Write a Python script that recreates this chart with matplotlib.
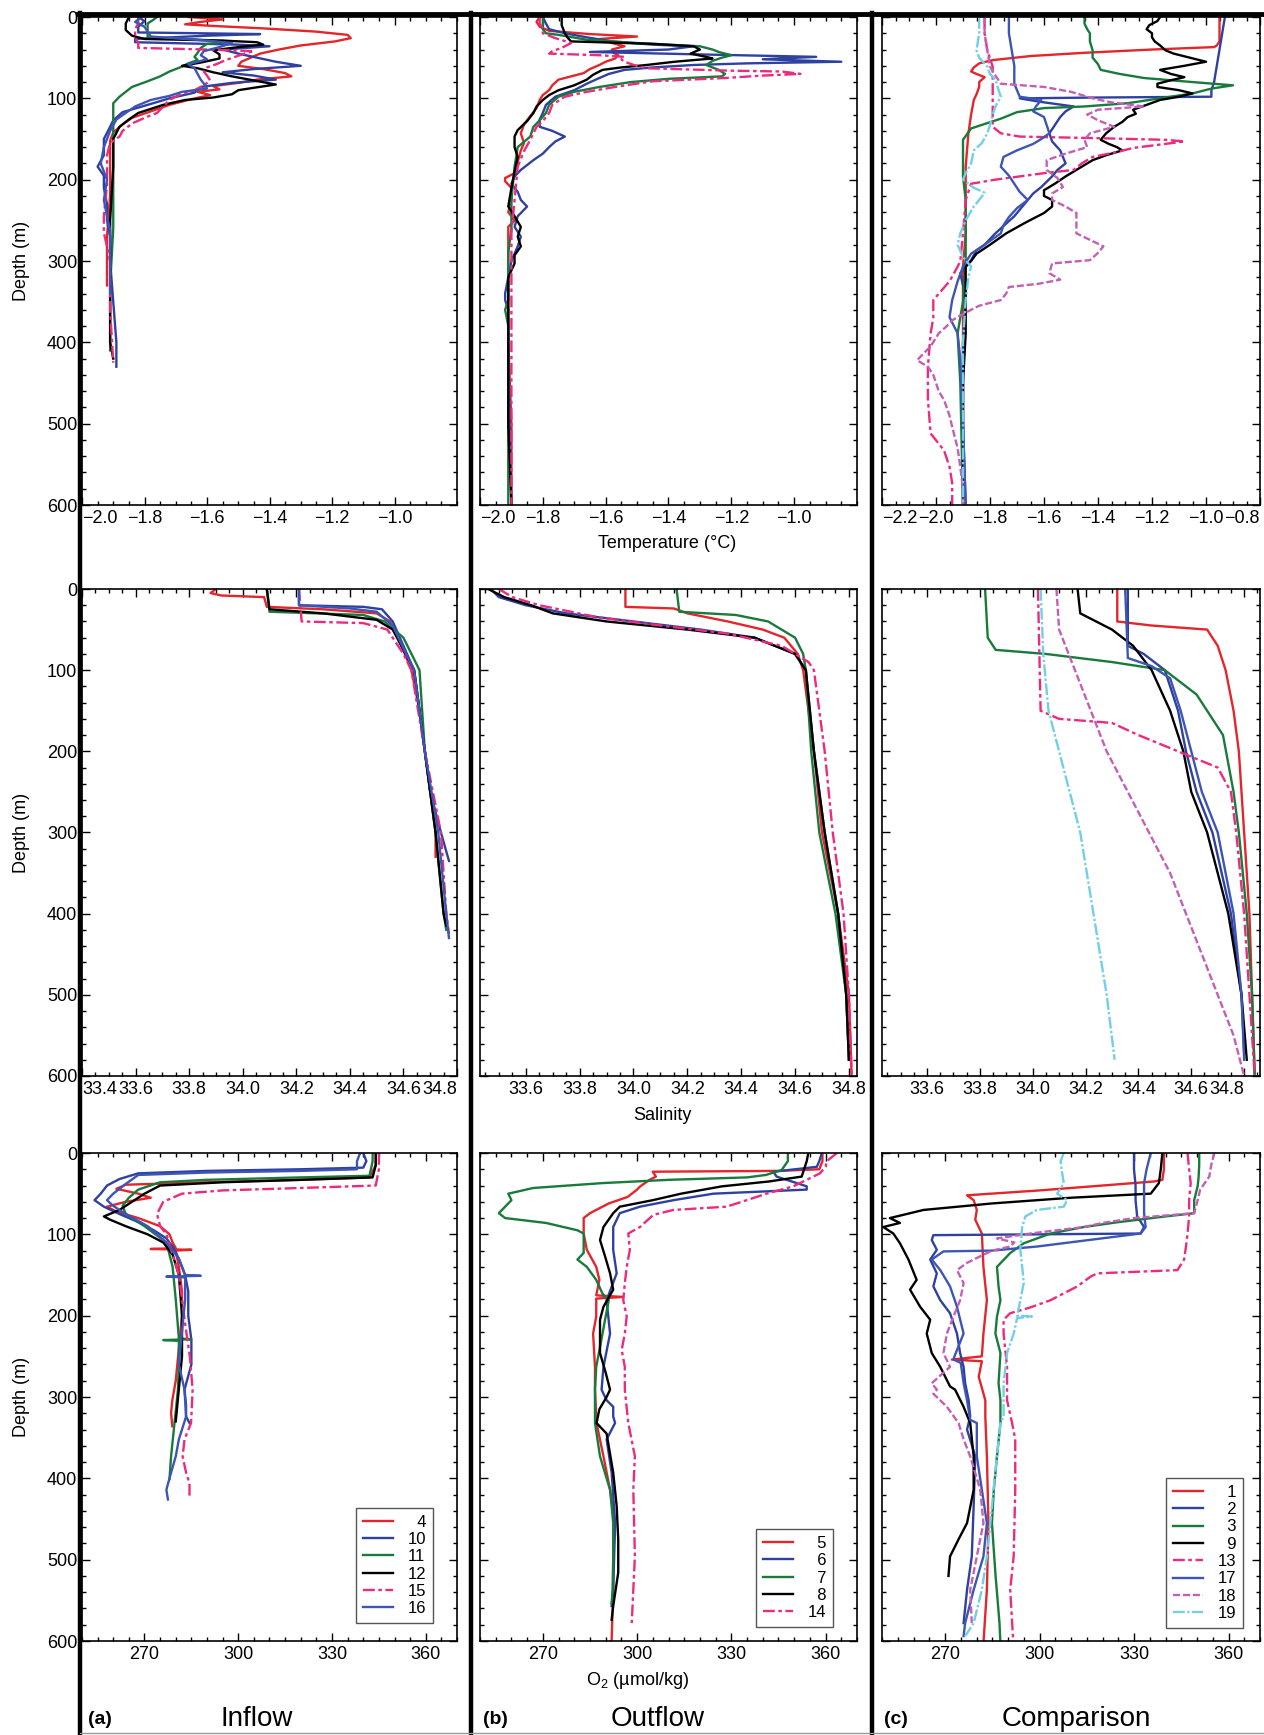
import matplotlib
matplotlib.use('Agg')
import matplotlib.pyplot as plt
from matplotlib.lines import Line2D
from matplotlib.ticker import MultipleLocator, FixedLocator, FuncFormatter
import numpy as np

plt.rcParams['font.family'] = ['Liberation Sans', 'DejaVu Sans']
plt.rcParams['mathtext.fontset'] = 'custom'
plt.rcParams['mathtext.rm'] = 'Liberation Sans'
plt.rcParams['mathtext.default'] = 'regular'

# ---- station lists ----
inflow_st = ['4', '10', '11', '12', '15', '16']
outflow_st = ['5', '6', '7', '8', '14']
comp_st = ['1', '2', '3', '9', '13', '17', '18', '19']

# ---- temperature profiles (depth m, temp C) ----
temp_in_4 = [(0,-1.66),(3,-1.55),(6,-1.62),(9,-1.67),(11,-1.58),(14,-1.42),(18,-1.25),(22,-1.15),(26,-1.14),(30,-1.19),(35,-1.30),(40,-1.37),(45,-1.43),(50,-1.46),(55,-1.49),(60,-1.50),(64,-1.42),(69,-1.35),(73,-1.33),(77,-1.44),(81,-1.50),(85,-1.58),(89,-1.56),(92,-1.63),(96,-1.59),(101,-1.65),(108,-1.72),(116,-1.78),(124,-1.84),(132,-1.87),(142,-1.90),(152,-1.91),(180,-1.91),(220,-1.91),(270,-1.92),(330,-1.92)]
temp_in_10 = [(0,-1.82),(5,-1.80),(12,-1.82),(19,-1.82),(21,-1.43),(23,-1.60),(27,-1.83),(31,-1.83),(34,-1.50),(36,-1.40),(40,-1.55),(45,-1.50),(50,-1.44),(55,-1.38),(60,-1.30),(64,-1.45),(68,-1.55),(72,-1.45),(77,-1.38),(81,-1.52),(86,-1.62),(93,-1.64),(100,-1.72),(108,-1.79),(117,-1.87),(127,-1.90),(135,-1.91),(150,-1.93),(170,-1.93),(184,-1.95),(195,-1.93),(210,-1.93),(230,-1.92),(250,-1.92),(270,-1.91),(300,-1.91),(350,-1.90),(400,-1.89),(430,-1.89)]
temp_in_11 = [(0,-1.76),(3,-1.77),(8,-1.79),(15,-1.79),(20,-1.79),(25,-1.79),(28,-1.62),(30,-1.52),(33,-1.60),(38,-1.62),(44,-1.63),(49,-1.64),(53,-1.63),(57,-1.66),(61,-1.68),(67,-1.72),(73,-1.75),(79,-1.79),(86,-1.84),(92,-1.86),(98,-1.88),(106,-1.90),(130,-1.90),(200,-1.90),(260,-1.90),(330,-1.91),(410,-1.91)]
temp_in_12 = [(0,-1.85),(8,-1.86),(16,-1.86),(23,-1.84),(27,-1.80),(29,-1.55),(31,-1.44),(34,-1.42),(37,-1.50),(41,-1.58),(46,-1.56),(51,-1.56),(56,-1.62),(60,-1.68),(63,-1.63),(68,-1.58),(73,-1.52),(78,-1.45),(83,-1.38),(87,-1.45),(90,-1.50),(95,-1.52),(99,-1.58),(102,-1.67),(108,-1.74),(118,-1.82),(126,-1.85),(135,-1.88),(150,-1.90),(184,-1.90),(250,-1.91),(320,-1.91),(400,-1.91),(420,-1.90)]
temp_in_15 = [(0,-1.82),(8,-1.82),(15,-1.83),(25,-1.83),(32,-1.82),(38,-1.82),(40,-1.60),(42,-1.45),(45,-1.48),(49,-1.51),(53,-1.54),(58,-1.57),(62,-1.60),(67,-1.61),(72,-1.60),(78,-1.59),(84,-1.61),(90,-1.64),(96,-1.69),(102,-1.72),(110,-1.74),(118,-1.76),(124,-1.80),(131,-1.84),(140,-1.87),(147,-1.88),(155,-1.91),(170,-1.92),(205,-1.92),(245,-1.93),(265,-1.93),(300,-1.91),(360,-1.91),(425,-1.90)]
temp_in_16 = [(0,-1.81),(6,-1.83),(12,-1.80),(18,-1.79),(24,-1.78),(29,-1.60),(32,-1.52),(37,-1.56),(42,-1.61),(47,-1.62),(52,-1.60),(58,-1.66),(63,-1.64),(70,-1.63),(77,-1.62),(82,-1.61),(88,-1.60),(92,-1.68),(97,-1.72),(102,-1.78),(110,-1.83),(118,-1.86),(126,-1.89),(140,-1.91),(160,-1.93),(180,-1.94),(200,-1.92),(225,-1.93),(245,-1.92),(262,-1.91),(290,-1.91),(340,-1.91)]

temp_out_5 = [(0,-1.81),(6,-1.82),(12,-1.81),(17,-1.78),(21,-1.65),(24,-1.50),(27,-1.62),(32,-1.58),(36,-1.54),(40,-1.58),(43,-1.58),(47,-1.56),(51,-1.57),(55,-1.60),(59,-1.62),(64,-1.65),(69,-1.67),(77,-1.75),(84,-1.77),(90,-1.78),(96,-1.80),(102,-1.81),(112,-1.82),(122,-1.84),(132,-1.86),(143,-1.87),(155,-1.86),(164,-1.87),(178,-1.88),(192,-1.89),(198,-1.92),(202,-1.92),(210,-1.90),(225,-1.90),(240,-1.91),(250,-1.89),(258,-1.91),(266,-1.91),(300,-1.91),(400,-1.91),(500,-1.90),(600,-1.90)]
temp_out_6 = [(0,-1.80),(8,-1.79),(15,-1.78),(20,-1.73),(25,-1.66),(30,-1.58),(34,-1.45),(36,-1.32),(40,-1.40),(43,-1.65),(46,-1.30),(49,-0.93),(52,-1.10),(55,-0.85),(57,-1.15),(59,-1.32),(62,-1.45),(65,-1.54),(70,-1.59),(75,-1.62),(82,-1.66),(90,-1.70),(98,-1.76),(108,-1.79),(118,-1.80),(126,-1.81),(135,-1.81),(140,-1.77),(147,-1.73),(153,-1.76),(160,-1.78),(168,-1.80),(176,-1.83),(188,-1.87),(196,-1.89),(205,-1.90),(215,-1.88),(225,-1.87),(233,-1.85),(245,-1.88),(258,-1.89),(270,-1.87),(282,-1.88),(300,-1.90),(320,-1.91),(340,-1.92),(348,-1.92),(360,-1.91),(400,-1.91),(600,-1.90)]
temp_out_7 = [(0,-1.80),(8,-1.80),(15,-1.80),(20,-1.79),(22,-1.75),(28,-1.66),(32,-1.50),(36,-1.30),(40,-1.26),(43,-1.24),(47,-1.20),(50,-1.23),(54,-1.26),(59,-1.28),(65,-1.24),(70,-1.22),(73,-1.23),(76,-1.40),(80,-1.52),(86,-1.62),(92,-1.70),(98,-1.75),(108,-1.78),(118,-1.79),(127,-1.81),(135,-1.83),(147,-1.84),(160,-1.88),(184,-1.89),(225,-1.90),(260,-1.90),(290,-1.91),(320,-1.91),(348,-1.91),(360,-1.92),(380,-1.91),(450,-1.91),(600,-1.91)]
temp_out_8 = [(0,-1.74),(10,-1.74),(20,-1.73),(26,-1.72),(30,-1.71),(33,-1.45),(36,-1.32),(40,-1.30),(45,-1.33),(49,-1.28),(51,-1.26),(55,-1.38),(59,-1.47),(62,-1.55),(65,-1.61),(71,-1.64),(77,-1.66),(84,-1.70),(90,-1.75),(96,-1.78),(102,-1.80),(110,-1.82),(118,-1.83),(128,-1.85),(139,-1.88),(147,-1.89),(160,-1.89),(172,-1.88),(190,-1.89),(210,-1.90),(233,-1.91),(245,-1.89),(258,-1.87),(270,-1.88),(282,-1.87),(293,-1.89),(303,-1.89),(320,-1.91),(350,-1.91),(400,-1.91),(500,-1.91),(600,-1.90)]
temp_out_14 = [(0,-1.81),(8,-1.81),(15,-1.80),(20,-1.80),(26,-1.76),(32,-1.71),(38,-1.74),(42,-1.77),(45,-1.78),(47,-1.62),(49,-1.54),(52,-1.55),(55,-1.54),(59,-1.51),(63,-1.47),(66,-1.20),(67,-1.04),(70,-0.98),(72,-1.10),(75,-1.22),(79,-1.45),(83,-1.52),(86,-1.57),(92,-1.66),(98,-1.73),(108,-1.77),(118,-1.78),(128,-1.80),(135,-1.82),(151,-1.84),(165,-1.86),(184,-1.88),(225,-1.89),(266,-1.90),(348,-1.90),(450,-1.90),(600,-1.90)]

temp_cmp_1 = [(0,-0.95),(10,-0.95),(20,-0.95),(30,-0.95),(35,-0.96),(37,-0.97),(40,-1.20),(44,-1.45),(48,-1.65),(53,-1.79),(57,-1.84),(62,-1.86),(67,-1.87),(70,-1.85),(74,-1.82),(80,-1.84),(86,-1.84),(95,-1.85),(102,-1.86),(120,-1.87),(143,-1.88),(184,-1.89),(230,-1.89),(266,-1.89),(307,-1.90),(400,-1.90),(500,-1.90),(600,-1.90)]
temp_cmp_2 = [(0,-0.93),(20,-0.94),(40,-0.95),(60,-0.96),(80,-0.97),(90,-0.98),(98,-0.98),(99,-1.40),(100,-1.69),(104,-1.62),(110,-1.49),(116,-1.52),(123,-1.54),(133,-1.56),(143,-1.58),(153,-1.57),(164,-1.54),(172,-1.53),(180,-1.52),(188,-1.55),(196,-1.57),(209,-1.61),(217,-1.64),(225,-1.66),(245,-1.71),(266,-1.78),(280,-1.82),(287,-1.85),(299,-1.87),(315,-1.91),(330,-1.90),(348,-1.89),(400,-1.90),(500,-1.90),(600,-1.89)]
temp_cmp_3 = [(0,-1.45),(8,-1.45),(15,-1.44),(20,-1.43),(30,-1.43),(41,-1.42),(50,-1.42),(58,-1.40),(65,-1.39),(70,-1.32),(75,-1.23),(80,-1.05),(84,-0.90),(88,-0.98),(94,-1.05),(100,-1.17),(106,-1.29),(110,-1.45),(112,-1.60),(117,-1.70),(125,-1.76),(137,-1.87),(151,-1.90),(176,-1.90),(196,-1.90),(225,-1.89),(300,-1.89),(350,-1.90),(389,-1.92),(450,-1.91),(600,-1.90)]
temp_cmp_9 = [(0,-1.17),(5,-1.18),(10,-1.21),(15,-1.22),(20,-1.20),(25,-1.20),(30,-1.19),(35,-1.17),(41,-1.15),(45,-1.12),(50,-1.06),(55,-1.00),(60,-1.08),(65,-1.17),(70,-1.13),(74,-1.08),(77,-1.12),(82,-1.18),(86,-1.18),(90,-1.10),(94,-1.05),(98,-1.10),(102,-1.17),(108,-1.22),(114,-1.27),(119,-1.26),(123,-1.29),(129,-1.31),(135,-1.34),(143,-1.37),(151,-1.39),(156,-1.36),(160,-1.33),(164,-1.31),(170,-1.37),(176,-1.42),(186,-1.47),(196,-1.52),(205,-1.56),(213,-1.60),(220,-1.60),(225,-1.57),(233,-1.57),(241,-1.60),(253,-1.67),(266,-1.74),(280,-1.80),(291,-1.85),(300,-1.87),(307,-1.89),(330,-1.89),(389,-1.89),(450,-1.90),(600,-1.90)]
temp_cmp_13 = [(0,-1.82),(20,-1.82),(41,-1.81),(61,-1.79),(90,-1.79),(110,-1.79),(125,-1.79),(135,-1.79),(143,-1.76),(147,-1.69),(149,-1.40),(151,-1.15),(153,-1.08),(156,-1.15),(161,-1.27),(166,-1.33),(172,-1.42),(180,-1.46),(188,-1.49),(192,-1.60),(196,-1.69),(200,-1.78),(205,-1.87),(215,-1.88),(225,-1.89),(266,-1.90),(300,-1.91),(307,-1.92),(325,-1.95),(348,-2.01),(370,-2.01),(389,-2.02),(430,-2.03),(470,-2.03),(512,-2.02),(533,-1.97),(553,-1.95),(573,-1.94),(600,-1.94)]
temp_cmp_17 = [(0,-1.73),(20,-1.73),(40,-1.72),(60,-1.71),(82,-1.71),(90,-1.70),(98,-1.69),(102,-1.61),(110,-1.63),(116,-1.64),(123,-1.60),(133,-1.59),(143,-1.58),(150,-1.61),(156,-1.64),(164,-1.70),(172,-1.75),(184,-1.76),(195,-1.73),(205,-1.71),(215,-1.69),(225,-1.66),(235,-1.70),(246,-1.73),(256,-1.75),(266,-1.76),(280,-1.82),(291,-1.87),(307,-1.90),(325,-1.92),(348,-1.94),(369,-1.95),(389,-1.92),(420,-1.91),(500,-1.90),(600,-1.89)]
temp_cmp_18 = [(0,-1.82),(20,-1.82),(41,-1.81),(61,-1.80),(72,-1.78),(82,-1.76),(86,-1.60),(92,-1.50),(100,-1.42),(105,-1.35),(110,-1.23),(114,-1.40),(120,-1.44),(127,-1.40),(135,-1.34),(143,-1.43),(151,-1.45),(160,-1.44),(168,-1.52),(176,-1.59),(188,-1.59),(198,-1.55),(209,-1.53),(217,-1.57),(225,-1.57),(233,-1.52),(241,-1.48),(256,-1.48),(266,-1.48),(274,-1.43),(282,-1.38),(290,-1.40),(299,-1.43),(303,-1.57),(315,-1.58),(323,-1.54),(328,-1.62),(332,-1.73),(340,-1.74),(348,-1.76),(355,-1.84),(360,-1.87),(367,-1.91),(373,-1.94),(380,-1.96),(389,-1.99),(405,-2.02),(415,-2.05),(422,-2.07),(430,-2.03),(440,-2.01),(460,-1.99),(471,-1.97),(490,-1.95),(504,-1.94),(530,-1.92),(553,-1.91),(580,-1.90),(600,-1.90)]
temp_cmp_19 = [(0,-1.84),(20,-1.84),(41,-1.85),(50,-1.84),(61,-1.81),(70,-1.80),(77,-1.78),(88,-1.77),(98,-1.76),(110,-1.78),(120,-1.79),(133,-1.80),(143,-1.81),(155,-1.83),(164,-1.86),(180,-1.87),(192,-1.89),(200,-1.90),(210,-1.86),(216,-1.82),(225,-1.84),(233,-1.86),(250,-1.89),(266,-1.91),(280,-1.92),(295,-1.90),(307,-1.87),(320,-1.88),(348,-1.89),(400,-1.90),(500,-1.90),(600,-1.90)]

# ---- salinity profiles (depth m, salinity) ----
sal_in_4 = [(0,33.90),(5,33.88),(8,33.92),(10,34.08),(22,34.09),(25,34.30),(30,34.50),(40,34.55),(60,34.58),(100,34.63),(150,34.66),(200,34.68),(250,34.70),(300,34.72),(330,34.72)]
sal_in_10 = [(0,34.21),(20,34.21),(22,34.45),(25,34.52),(40,34.56),(70,34.60),(100,34.64),(200,34.68),(250,34.70),(300,34.74),(335,34.77)]
sal_in_11 = [(0,34.09),(28,34.10),(32,34.45),(40,34.53),(60,34.60),(100,34.66),(200,34.68),(300,34.72),(400,34.75),(420,34.76)]
sal_in_12 = [(0,34.09),(25,34.10),(30,34.30),(38,34.50),(50,34.56),(100,34.64),(200,34.68),(300,34.72),(400,34.75),(415,34.76)]
sal_in_15 = [(0,34.21),(40,34.22),(42,34.45),(50,34.54),(80,34.60),(100,34.63),(200,34.68),(300,34.74),(400,34.76),(425,34.77)]
sal_in_16 = [(0,34.21),(20,34.21),(24,34.40),(28,34.50),(45,34.56),(80,34.61),(100,34.64),(200,34.68),(300,34.73),(400,34.76),(430,34.77)]

sal_out_5 = [(0,33.97),(22,33.97),(24,34.15),(30,34.20),(40,34.35),(50,34.48),(60,34.56),(80,34.61),(100,34.63),(150,34.65),(200,34.67),(300,34.70),(400,34.76),(500,34.80),(600,34.81)]
sal_out_6 = [(0,33.47),(10,33.50),(20,33.60),(30,33.75),(40,34.00),(50,34.25),(60,34.45),(80,34.60),(100,34.64),(200,34.67),(300,34.71),(400,34.76),(500,34.79),(580,34.80)]
sal_out_7 = [(0,34.16),(28,34.17),(32,34.38),(40,34.50),(60,34.60),(80,34.63),(100,34.64),(200,34.66),(300,34.69),(400,34.75),(500,34.79),(580,34.80)]
sal_out_8 = [(0,33.46),(10,33.52),(20,33.62),(30,33.70),(40,33.90),(50,34.20),(60,34.45),(80,34.60),(100,34.64),(200,34.67),(300,34.71),(400,34.76),(500,34.79),(580,34.80)]
sal_out_14 = [(0,33.50),(10,33.55),(20,33.65),(35,33.87),(45,34.10),(55,34.35),(70,34.55),(90,34.65),(100,34.67),(200,34.71),(300,34.74),(400,34.78),(500,34.80),(600,34.81)]

sal_cmp_1 = [(0,34.32),(40,34.32),(45,34.45),(50,34.66),(70,34.70),(100,34.73),(150,34.76),(200,34.78),(300,34.80),(400,34.82),(500,34.83),(600,34.84)]
sal_cmp_2 = [(0,34.36),(70,34.36),(80,34.42),(100,34.50),(150,34.55),(200,34.58),(250,34.62),(300,34.68),(400,34.75),(500,34.79),(570,34.80)]
sal_cmp_3 = [(0,33.82),(60,33.83),(75,33.86),(80,34.05),(90,34.30),(100,34.50),(130,34.62),(180,34.72),(250,34.76),(300,34.78),(400,34.81),(500,34.83),(600,34.84)]
sal_cmp_9 = [(0,34.17),(30,34.18),(50,34.30),(70,34.38),(100,34.45),(150,34.52),(200,34.57),(250,34.60),(300,34.66),(400,34.74),(500,34.79),(580,34.81)]
sal_cmp_13 = [(0,34.02),(150,34.03),(160,34.10),(165,34.30),(180,34.40),(200,34.55),(220,34.70),(250,34.75),(300,34.77),(400,34.80),(500,34.82),(600,34.84)]
sal_cmp_17 = [(0,34.35),(85,34.36),(95,34.45),(110,34.52),(150,34.56),(200,34.60),(250,34.64),(300,34.70),(400,34.76),(500,34.79),(580,34.80)]
sal_cmp_18 = [(0,34.09),(50,34.10),(100,34.16),(150,34.22),(200,34.28),(250,34.36),(300,34.44),(350,34.52),(400,34.58),(450,34.64),(500,34.70),(550,34.76),(600,34.80)]
sal_cmp_19 = [(0,34.03),(80,34.04),(150,34.06),(200,34.10),(300,34.18),(400,34.23),(500,34.28),(580,34.31)]

# ---- oxygen profiles (depth m, O2 umol/kg) ----
o2_in_4 = [(0,344),(15,344),(30,342),(33,320),(36,290),(39,264),(44,261),(50,268),(55,272),(60,264),(66,258),(72,261),(80,268),(90,275),(100,278),(110,279),(117,280),(118,272),(119,285),(120,280),(140,281),(170,282),(200,282),(240,281),(280,280),(304,278.9),(320,278.5),(336,278.9)]
o2_in_10 = [(0,340),(10,341),(18,340),(20,320),(22,290),(25,268),(32,262),(40,258),(50,256),(58,254),(66,257),(75,262),(85,268),(95,273),(105,277),(115,279),(130,281),(150,283),(170,284),(200,284),(230,285),(260,285),(291,282.8),(310,283.3),(324,283.3),(332,284.4)]
o2_in_11 = [(0,343),(10,343),(28,342),(30,320),(33,290),(36,275),(45,268),(55,265),(65,263),(75,264),(90,270),(110,277),(140,279),(180,280),(228,281),(229,285),(230,276),(231,281),(260,281),(291,280.7),(332,279.6),(373,278.5),(401,278)]
o2_in_12 = [(0,344),(15,344),(30,343),(33,320),(36,295),(40,275),(50,270),(60,266),(70,262),(78,257),(82,259),(90,264),(100,271),(110,276),(125,279),(150,281),(200,282),(250,282),(290,281),(330,280)]
o2_in_15 = [(0,345),(20,345),(40,344),(43,320),(46,295),(50,282),(60,276),(75,274),(90,275),(100,277),(125,279),(150,281),(180,282),(210,283),(250,284.5),(291,285.4),(332,284.9),(352,282.8),(373,282.2),(393,283.3),(406,284.4),(422,284.4)]
o2_in_16 = [(0,339),(10,338),(20,338),(22,320),(24,290),(27,268),(38,264),(50,260),(58,258),(65,260),(75,264),(90,271),(110,277),(130,281),(150,283),(151,288),(152,277),(153,283),(180,283),(220,282),(260,281),(291,282.8),(324,283.3),(340,282),(352,281),(373,280),(393,278.5),(414,277),(426,277.5)]

o2_out_5 = [(0,359),(10,359),(20,358),(22,345),(23,305),(29,306),(33,304),(41,301),(45,300),(54,297),(62,291),(74,285),(80,283),(99,283),(119,284),(140,287),(156,288),(175,287),(177,295.6),(179,287),(201,287),(222,286),(263,286.6),(291,286.6),(332,287.1),(373,289.3),(414,291.4),(455,293),(496,292.4),(537,292.4),(600,291.9)]
o2_out_6 = [(0,358.8),(10,358),(17,357.2),(23,343.4),(29,344.4),(36,350),(41,354),(45,354),(50,324.3),(58,311.6),(66,300.9),(74,294.5),(91,292.4),(119,292.4),(148,293.5),(181,290.3),(222,291.4),(263,289.3),(291,288.7),(304,290.3),(312,292.4),(324,292.4),(332,293),(352,290.3),(393,291.9),(455,293),(537,292.4),(557,291.9)]
o2_out_7 = [(0,348),(10,348),(21,346),(27,341),(30,335),(33,310),(37,289),(43,267),(50,259),(58,260),(66,258),(74,256),(80,258),(86,271),(95,281),(99,283),(110,283),(123,283),(131,281),(140,284),(156,287),(173,289),(181,291),(201,290),(222,289),(263,287),(291,286.6),(332,286.6),(373,288.2),(414,291.4),(455,292.4),(496,292.4),(537,292.2),(554,291.9)]
o2_out_8 = [(0,354.5),(10,354),(29,352.4),(35,342),(41,327),(50,314),(58,305),(66,294.5),(74,292.4),(91,289.3),(107,288.2),(127,289.8),(148,291.4),(168,292.4),(189,289.3),(205,288.2),(246,288.2),(270,290),(291,291.4),(300,290.3),(315,288),(332,287.1),(345,290.3),(393,292.4),(434,293.5),(475,294),(516,294),(557,292.4),(574,291.9)]
o2_out_14 = [(0,363.6),(10,360.4),(17,360),(25,358.2),(33,354),(41,349.7),(50,341.2),(58,334.9),(66,328.5),(70,311.6),(76,305.2),(91,300.9),(99,297.2),(119,297.7),(140,296.7),(160,296.1),(181,295.6),(201,296.7),(222,296.1),(242,295.1),(263,296.1),(291,296.1),(332,297.2),(373,299.3),(414,298.8),(496,299.3),(578,298.3)]

o2_cmp_1 = [(0,339.5),(20,339.5),(33,339),(35,336.4),(40,320),(46,300),(52,277),(58,279.1),(70,280.1),(82,279.6),(99,281.7),(140,282.2),(181,283.3),(222,282.2),(250,281.7),(254,272.2),(256,281.7),(275,280.7),(304,282.8),(324,282.8),(373,283.3),(455,283.8),(537,283.3),(603,282.2)]
o2_cmp_2 = [(0,330),(20,330),(40,330.5),(58,330.5),(78,331),(91,333.2),(99,332.1),(100,300),(101,266.3),(107,265.8),(119,267.4),(131,265.3),(148,267.4),(164,266.3),(181,268.5),(197,271.6),(222,273.8),(246,274.8),(263,275.9),(283,276.4),(304,277.5),(324,278),(340,277),(373,279.6),(434,279.1),(496,278.5),(537,277),(578,275.9)]
o2_cmp_3 = [(0,350.7),(15,350.7),(30,350.5),(41,350.2),(58,349.1),(74,349.1),(78,340),(85,325),(91,314.1),(99,303.5),(111,295),(123,290.7),(140,286.5),(164,287),(181,287.6),(201,286.5),(222,286),(246,287.6),(283,287),(304,287.6),(332,287.6),(373,286.5),(414,285.5),(455,284.9),(517,286),(578,287.3),(603,287.6)]
o2_cmp_9 = [(0,339),(20,338.5),(37,337.9),(50,335.3),(55,310),(62,285),(70,263.2),(76,256.8),(80,252.5),(86,255.7),(91,250.4),(99,253.6),(111,255.7),(131,258.4),(156,261),(168,258.9),(189,262.1),(205,265.3),(222,264.2),(246,265.8),(263,268.5),(287,271.6),(291,273.2),(312,275.9),(332,278),(373,279.1),(414,279.1),(455,277),(475,274.3),(496,271.6),(520,271.1)]
o2_cmp_13 = [(0,347),(20,347.5),(37,348),(58,347.5),(78,347.5),(99,347),(115,346.5),(131,345.9),(144,343.8),(148,318.3),(152,316.2),(164,312),(172,308),(181,303.5),(190,297),(197,290.7),(205,288.6),(222,288.6),(263,289.7),(304,289.7),(332,291.3),(352,292.3),(414,292.3),(496,291.8),(537,290.7),(603,291.7)]
o2_cmp_17 = [(0,335.3),(20,334),(37,333.2),(74,333.2),(91,333.7),(99,332.1),(115,299.2),(120,285),(121,269.5),(131,265.8),(144,268.5),(164,271.6),(189,273.8),(222,275.9),(250,273),(254,272.7),(258,275),(283,275.9),(304,277),(328,278),(332,280.1),(373,280.1),(414,281.7),(455,283.3),(496,282.2),(537,279.1),(578,276.4),(594,275.9)]
o2_cmp_18 = [(0,355.5),(15,354.5),(29,353.9),(45,351),(58,350.2),(74,349.1),(80,330),(86,320),(91,314.1),(99,297.1),(105,286.5),(110,292),(115,290.7),(120,285),(123,283.3),(135,277),(144,273.8),(160,275.9),(181,274.8),(201,272.7),(222,270.6),(246,269.5),(263,271.6),(283,265.8),(291,267.4),(296,266.3),(312,270.6),(332,274.3),(352,275.9),(373,278),(414,281.2),(455,282.2),(496,280.1),(537,278),(578,278.5)]
o2_cmp_19 = [(0,307.7),(10,306.7),(20,307),(37,307.7),(50,305.6),(58,308.8),(66,307.7),(70,299.2),(78,295.5),(91,294.5),(119,293.9),(140,294.5),(160,295),(181,293.9),(200,292.9),(201,297.6),(203,292.9),(222,291.8),(246,289.7),(283,288.6),(324,288.6),(332,287.6),(373,286.5),(414,285.4),(455,284.4),(496,283.3),(537,281.7),(578,279.1),(594,276.4)]

# ---- line styles per station ----
red, blue, blue2, green = '#e3262b', '#2f41a0', '#3d55b5', '#197a3c'
pink, orchid, cyan = '#ec2a7e', '#c35fb5', '#72cfe6'
dashdot = (0, (5, 1.5, 1.5, 1.5))
style = {
    '4': (red, '-'), '10': (blue, '-'), '11': (green, '-'), '12': ('k', '-'),
    '15': (pink, dashdot), '16': (blue2, '-'),
    '5': (red, '-'), '6': (blue, '-'), '7': (green, '-'), '8': ('k', '-'),
    '14': (pink, dashdot),
    '1': (red, '-'), '2': (blue, '-'), '3': (green, '-'), '9': ('k', '-'),
    '13': (pink, dashdot), '17': (blue2, '-'), '18': (orchid, (0, (3, 1.2))),
    '19': (cyan, (0, (5, 1, 1, 1))),
}

g = globals()
stations = [inflow_st, outflow_st, comp_st]
prefix = [['temp_in_', 'temp_out_', 'temp_cmp_'],
          ['sal_in_', 'sal_out_', 'sal_cmp_'],
          ['o2_in_', 'o2_out_', 'o2_cmp_']]

W, H = 1264, 1735
fig = plt.figure(figsize=(W / 100, H / 100), dpi=100)

cols = [(82, 457), (480, 857), (882, 1260)]
rows = [(17, 505), (589, 1076), (1153, 1641)]
xlims = [[(-2.0, -0.8), (-2.0, -0.8), (-2.2, -0.8)],
         [(33.4, 34.8), (33.43, 34.83), (33.43, 34.86)],
         [(250, 370), (250, 370), (250, 370)]]
xticks = [[np.arange(-2.0, -0.95, 0.2), np.arange(-2.0, -0.95, 0.2), np.arange(-2.2, -0.75, 0.2)],
          [np.arange(33.4, 34.85, 0.2), np.arange(33.6, 34.85, 0.2), np.arange(33.6, 34.85, 0.2)],
          [[270, 300, 330, 360]] * 3]
minors = [0.05, 0.05, 5]
fmts = ['%.1f', '%.1f', '%d']


def make_fmt(f):
    return FuncFormatter(lambda v, p: (f % v).replace('-', '\u2212'))


for r in range(3):
    for c in range(3):
        x0, x1 = cols[c]
        y0, y1 = rows[r]
        ax = fig.add_axes([x0 / W, 1 - y1 / H, (x1 - x0) / W, (y1 - y0) / H])
        for st in stations[c]:
            d = np.array(g[prefix[r][c] + st])
            col, ls = style[st]
            ax.plot(d[:, 1], d[:, 0], color=col, ls=ls, lw=1.7, label='\u2007' * (2 - len(st)) + st)
        ax.set_ylim(600, 0)
        ax.set_xlim(*xlims[r][c])
        ax.yaxis.set_major_locator(MultipleLocator(100))
        ax.yaxis.set_minor_locator(MultipleLocator(20))
        ax.xaxis.set_major_locator(FixedLocator(xticks[r][c]))
        ax.xaxis.set_major_formatter(make_fmt(fmts[r]))
        ax.xaxis.set_minor_locator(MultipleLocator(minors[r]))
        ax.tick_params(which='both', direction='in', top=True, right=True, labelsize=13, width=1)
        ax.tick_params(which='major', length=6)
        ax.tick_params(which='minor', length=3)
        ax.tick_params(axis='y', labelleft=(c == 0))
        for s in ax.spines.values():
            s.set_linewidth(1.2)
        labs = ax.get_xticklabels()
        if (r == 0) or (r == 1 and c == 0):
            labs[0].set_ha('left')
        if (r == 0 and c == 2) or (r == 1 and c in (0, 2)):
            labs[-1].set_ha('right')
        if r == 2:
            lx = [0.936, 0.936, 0.955][c]
            ly = [0.037, 0.029, 0.027][c]
            leg = ax.legend(loc='lower right', bbox_to_anchor=(lx, ly), borderaxespad=0,
                            fontsize=12, handlelength=1.8, handletextpad=0.9,
                            labelspacing=0.14, borderpad=0.4, fancybox=False,
                            edgecolor='#555555', framealpha=1)
            leg.get_frame().set_linewidth(1.0)

for (y0, y1) in rows:
    fig.text(22 / W, 1 - (y0 + y1) / 2 / H, 'Depth (m)', rotation=90,
             ha='center', va='center', fontsize=13)

fig.text(667 / W, 1 - 543 / H, 'Temperature (°C)', ha='center', va='center', fontsize=13)
fig.text(662 / W, 1 - 1115 / H, 'Salinity', ha='center', va='center', fontsize=13)
fig.text(637 / W, 1 - 1680 / H, 'O$_2$ (µmol/kg)', ha='center', va='center', fontsize=13)

for px, name, cx in [(88, '(a)', 257), (483, '(b)', 658), (884, '(c)', 1076)]:
    fig.text(px / W, 1 - 1719 / H, name, ha='left', va='center', fontsize=14, fontweight='bold')
    fig.text(cx / W, 1 - 1719 / H, {'(a)': 'Inflow', '(b)': 'Outflow', '(c)': 'Comparison'}[name],
             ha='center', va='center', fontsize=20)

# thick frame lines
for xv in [80, 471, 872]:
    fig.add_artist(Line2D([xv / W, xv / W], [1 - 13 / H, 0], transform=fig.transFigure,
                          color='k', lw=3.2))
fig.add_artist(Line2D([78 / W, 1], [1 - 14.5 / H, 1 - 14.5 / H], transform=fig.transFigure,
                      color='k', lw=3.5))
fig.add_artist(Line2D([80 / W, 1], [1 - 1733 / H, 1 - 1733 / H], transform=fig.transFigure,
                      color='#999999', lw=1))

fig.savefig('out.png', dpi=100)
